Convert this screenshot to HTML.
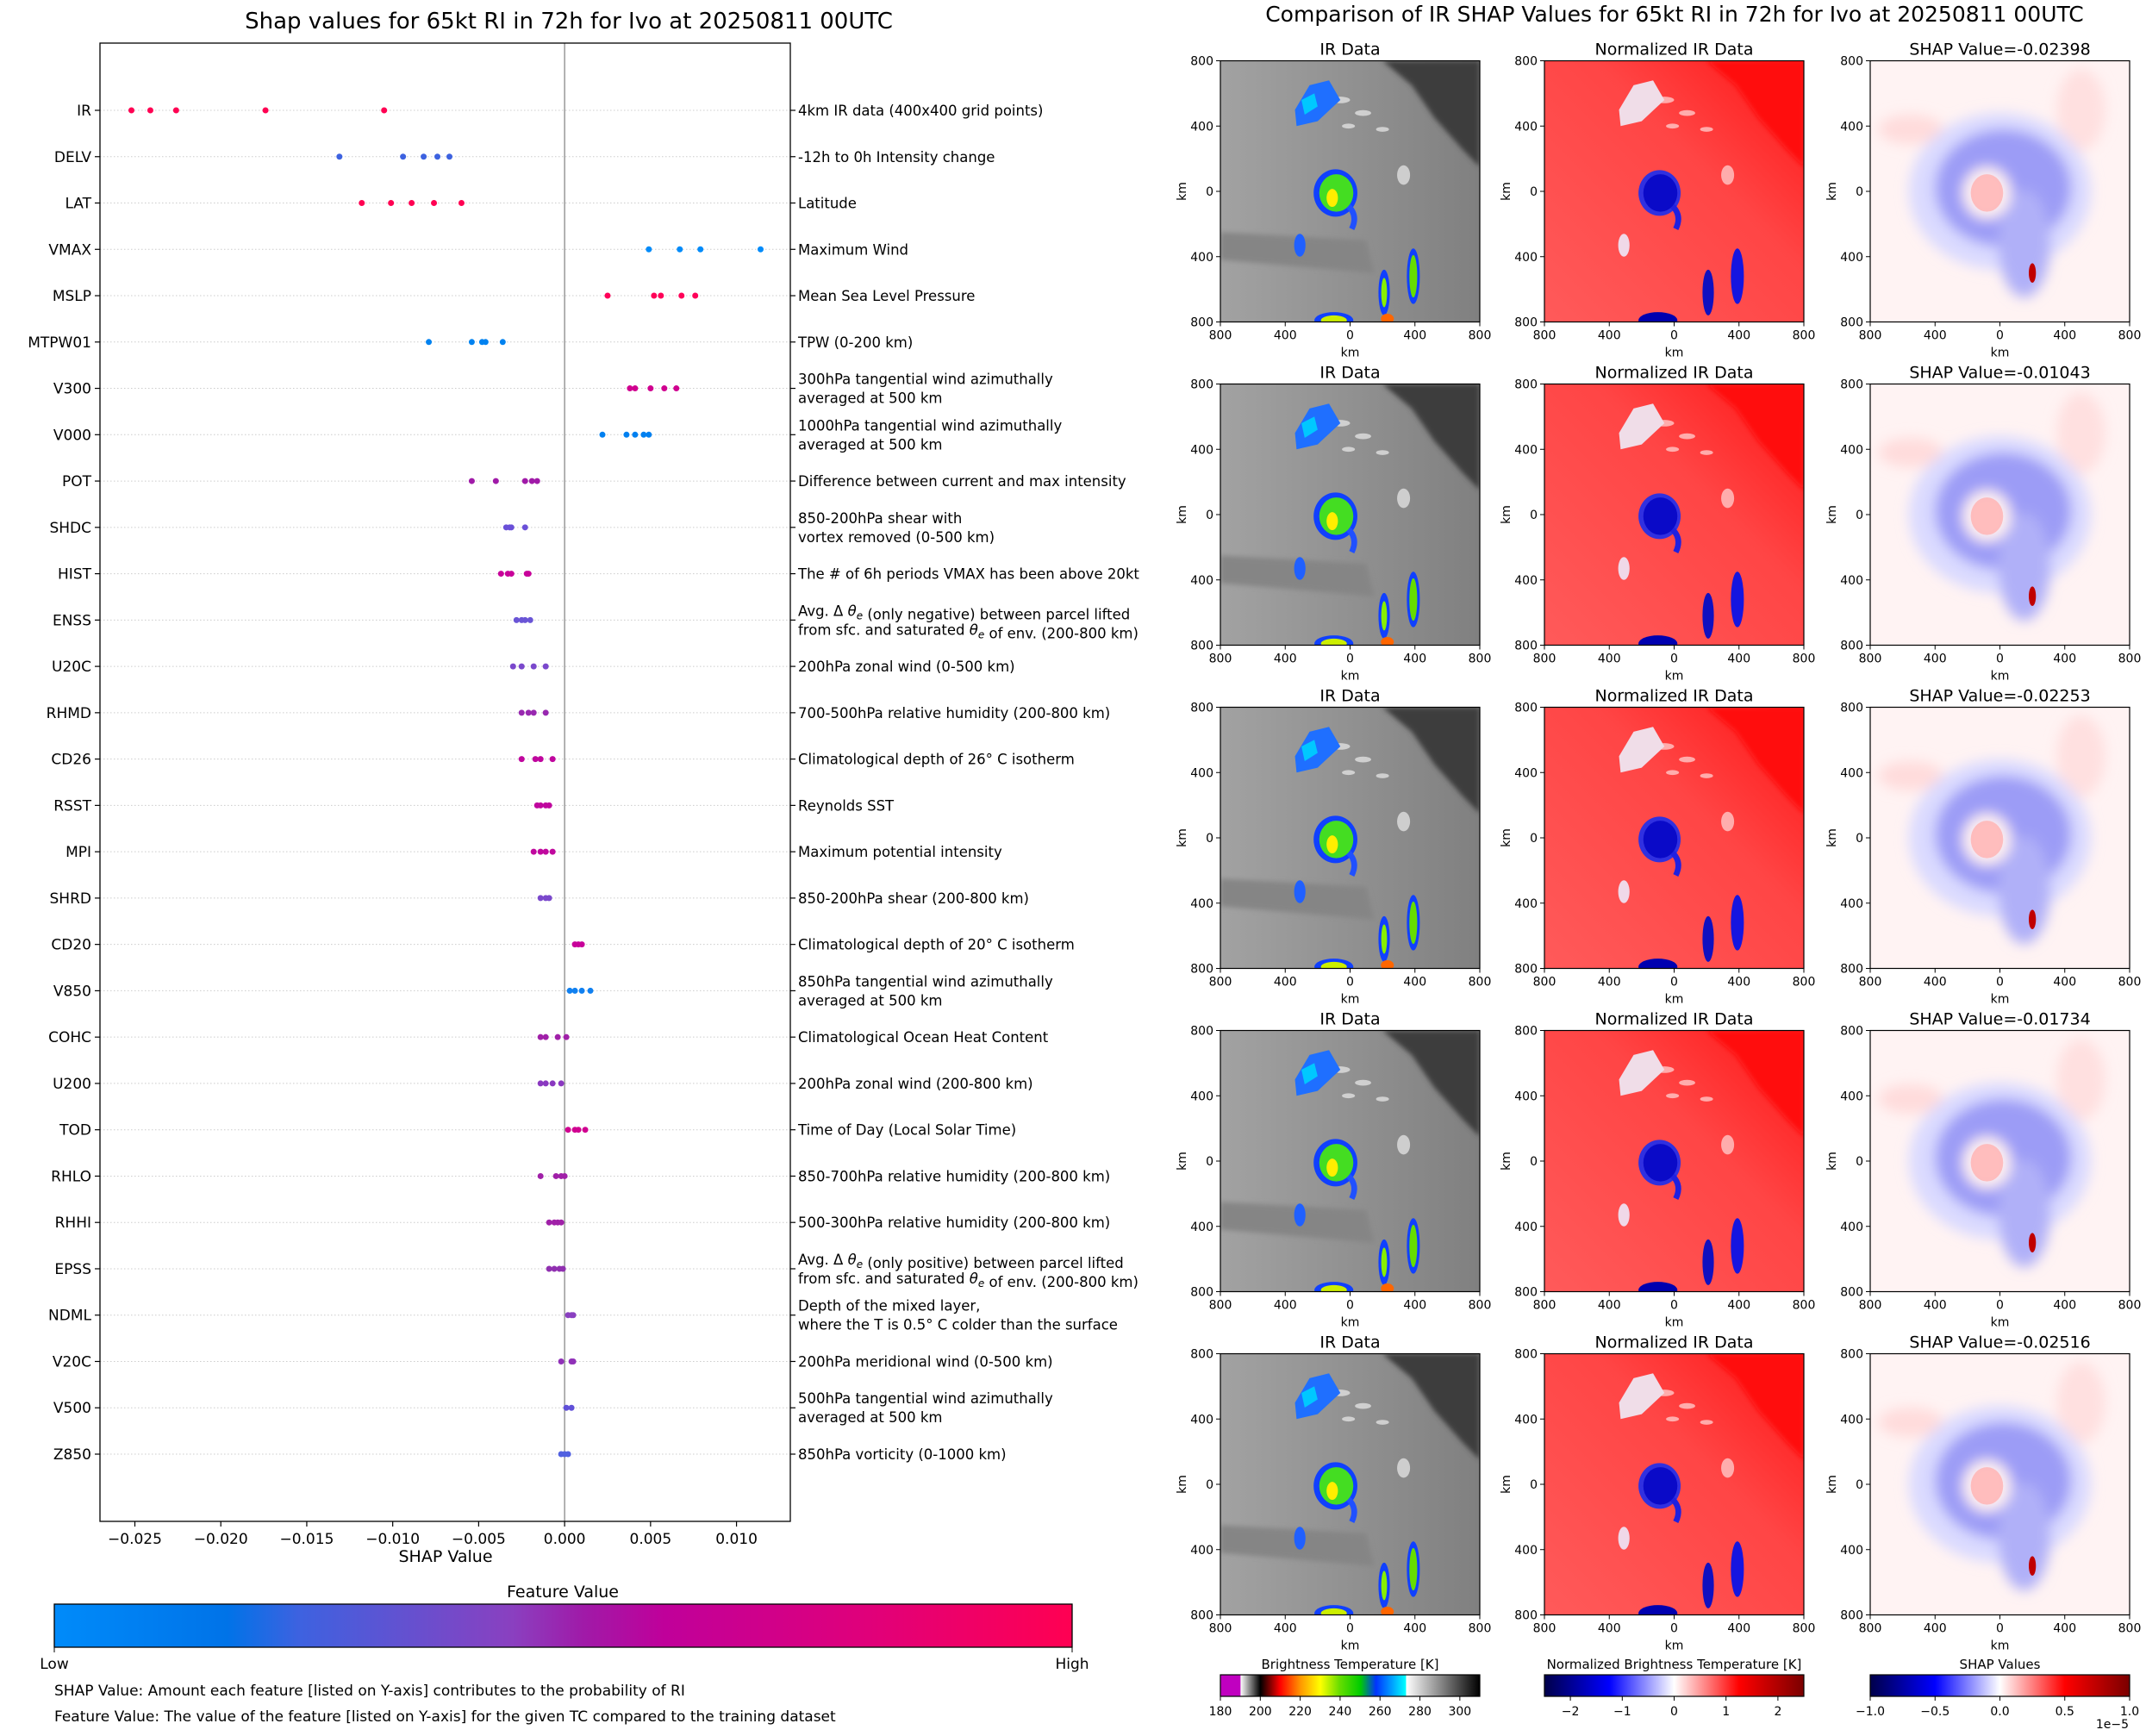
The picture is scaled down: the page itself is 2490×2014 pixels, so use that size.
<!DOCTYPE html>
<html><head><meta charset="utf-8"><style>
html,body{margin:0;padding:0;background:#fff;}
svg text{font-family:"DejaVu Sans","Liberation Sans",sans-serif;fill:#000;}
</style></head><body>
<svg id="root" width="2490" height="2009" viewBox="0 0 2490 2009" xmlns="http://www.w3.org/2000/svg">
<defs>
<linearGradient id="fvGrad" x1="0" x2="1" y1="0" y2="0">
<stop offset="0" stop-color="#008bfa"/><stop offset="0.17" stop-color="#0073e8"/><stop offset="0.24" stop-color="#3d62e0"/><stop offset="0.45" stop-color="#8a40c0"/><stop offset="0.52" stop-color="#a01aa8"/><stop offset="0.6" stop-color="#c0009a"/><stop offset="0.8" stop-color="#e0007a"/><stop offset="1" stop-color="#ff0052"/>
</linearGradient>
<linearGradient id="irCb" x1="0" x2="1">
<stop offset="0" stop-color="#c000c0"/><stop offset="0.077" stop-color="#c000c0"/><stop offset="0.078" stop-color="#ffffff"/><stop offset="0.154" stop-color="#000000"/><stop offset="0.23" stop-color="#ff0000"/><stop offset="0.31" stop-color="#ff9900"/><stop offset="0.385" stop-color="#ffff00"/><stop offset="0.46" stop-color="#66dd00"/><stop offset="0.54" stop-color="#00cc00"/><stop offset="0.6" stop-color="#0033ff"/><stop offset="0.715" stop-color="#00ffff"/><stop offset="0.716" stop-color="#ffffff"/><stop offset="1" stop-color="#000000"/>
</linearGradient>
<linearGradient id="bwr" x1="0" x2="1">
<stop offset="0" stop-color="#00004a"/><stop offset="0.25" stop-color="#0000ff"/><stop offset="0.5" stop-color="#ffffff"/><stop offset="0.75" stop-color="#ff0000"/><stop offset="1" stop-color="#7a0000"/>
</linearGradient>
<linearGradient id="irBg" x1="0" x2="1" y1="0" y2="0"><stop offset="0" stop-color="#a2a2a2"/><stop offset="1" stop-color="#808080"/></linearGradient>
<linearGradient id="nBg" x1="0" x2="1" y1="1" y2="0"><stop offset="0" stop-color="#ff5a5a"/><stop offset="0.6" stop-color="#ff4545"/><stop offset="1" stop-color="#ff1515"/></linearGradient>
<filter id="bl" x="-30%" y="-30%" width="160%" height="160%"><feGaussianBlur stdDeviation="40"/></filter>
<filter id="bl2"><feGaussianBlur stdDeviation="15"/></filter>
<clipPath id="pc"><rect x="-800" y="-800" width="1600" height="1600"/></clipPath>
<g id="irImg" clip-path="url(#pc)">
<rect x="-800" y="-800" width="1600" height="1600" fill="url(#irBg)"/>
<polygon points="200,-800 800,-800 800,-150 700,-250 520,-450 380,-650" fill="#3c3c3c" filter="url(#bl2)"/>
<polygon points="-800,250 100,300 150,500 -800,420" fill="#858585" filter="url(#bl2)"/>
<g fill="#e0e0e0" opacity="0.8">
<ellipse cx="-60" cy="-560" rx="60" ry="20"/><ellipse cx="80" cy="-480" rx="50" ry="18"/><ellipse cx="200" cy="-380" rx="40" ry="15"/><ellipse cx="-10" cy="-400" rx="40" ry="15"/><ellipse cx="330" cy="-100" rx="40" ry="60"/>
</g>
<path d="M-250,-650 L-130,-680 L-60,-560 L-200,-430 L-330,-400 L-340,-500 Z" fill="#1f6fff"/>
<path d="M-300,-560 L-220,-600 L-200,-520 L-280,-470 Z" fill="#00c8ff"/>
<ellipse cx="-90" cy="10" rx="135" ry="145" fill="#1040ff"/>
<ellipse cx="-85" cy="10" rx="105" ry="115" fill="#44dd22"/>
<ellipse cx="-110" cy="40" rx="35" ry="55" fill="#ffee00"/>
<path d="M-10,90 Q50,150 10,230" stroke="#2050ff" stroke-width="35" fill="none"/>
<ellipse cx="390" cy="520" rx="40" ry="170" fill="#1040ff"/>
<ellipse cx="390" cy="520" rx="24" ry="130" fill="#66dd00"/>
<ellipse cx="210" cy="620" rx="35" ry="140" fill="#1040ff"/>
<ellipse cx="210" cy="620" rx="18" ry="90" fill="#88ee00"/>
<ellipse cx="-100" cy="790" rx="120" ry="50" fill="#1040ff"/>
<ellipse cx="-100" cy="790" rx="80" ry="30" fill="#ccee00"/>
<ellipse cx="230" cy="780" rx="40" ry="30" fill="#ff6600"/>
<ellipse cx="-310" cy="330" rx="35" ry="70" fill="#2060ff"/>
</g>
<g id="nImg" clip-path="url(#pc)">
<rect x="-800" y="-800" width="1600" height="1600" fill="url(#nBg)"/>
<polygon points="200,-800 800,-800 800,-150 700,-250 520,-450 380,-650" fill="#ff1010" filter="url(#bl2)"/>
<g fill="#ffc8c8" opacity="0.8">
<ellipse cx="-60" cy="-560" rx="60" ry="20"/><ellipse cx="80" cy="-480" rx="50" ry="18"/><ellipse cx="200" cy="-380" rx="40" ry="15"/><ellipse cx="-10" cy="-400" rx="40" ry="15"/><ellipse cx="330" cy="-100" rx="40" ry="60"/>
</g>
<path d="M-250,-650 L-130,-680 L-60,-560 L-200,-430 L-330,-400 L-340,-500 Z" fill="#f0dde8"/>
<ellipse cx="-90" cy="10" rx="130" ry="140" fill="#3030e0"/>
<ellipse cx="-85" cy="10" rx="105" ry="115" fill="#0a0ac8"/>
<path d="M-10,90 Q50,150 10,230" stroke="#2020e0" stroke-width="35" fill="none"/>
<ellipse cx="390" cy="520" rx="40" ry="170" fill="#1515e0"/>
<ellipse cx="210" cy="620" rx="35" ry="140" fill="#1010c0"/>
<ellipse cx="-100" cy="790" rx="120" ry="50" fill="#0000b0"/>
<ellipse cx="-310" cy="330" rx="35" ry="70" fill="#f0d8e8"/>
</g>
<g id="sImg" clip-path="url(#pc)">
<rect x="-800" y="-800" width="1600" height="1600" fill="#fff3f3"/>
<g filter="url(#bl)">
<ellipse cx="-550" cy="-380" rx="200" ry="90" fill="#ffdcdc"/>
<ellipse cx="500" cy="-500" rx="150" ry="250" fill="#ffe0e0"/>
<ellipse cx="0" cy="0" rx="560" ry="480" fill="#dadaff"/>
<ellipse cx="20" cy="-20" rx="420" ry="360" fill="#9c9cf6"/>
<ellipse cx="150" cy="320" rx="160" ry="330" fill="#b0b0f8"/>
<ellipse cx="-80" cy="10" rx="150" ry="160" fill="#fff0f0"/>
</g>
<ellipse cx="-80" cy="10" rx="100" ry="115" fill="#ffb0b0" opacity="0.8"/>
<ellipse cx="200" cy="500" rx="22" ry="60" fill="#c00000"/>
</g>
</defs>
<text x="660" y="33" font-size="26" text-anchor="middle">Shap values for 65kt RI in 72h for Ivo at 20250811 00UTC</text>
<g id="shap"></g>
<g id="panels"></g>
<text x="1943" y="25" font-size="25" text-anchor="middle">Comparison of IR SHAP Values for 65kt RI in 72h for Ivo at 20250811 00UTC</text>
</svg>
<script>
const features = ["IR","DELV","LAT","VMAX","MSLP","MTPW01","V300","V000","POT","SHDC","HIST","ENSS","U20C","RHMD","CD26","RSST","MPI","SHRD","CD20","V850","COHC","U200","TOD","RHLO","RHHI","EPSS","NDML","V20C","V500","Z850"];
const descriptions = ["4km IR data (400x400 grid points)","-12h to 0h Intensity change","Latitude","Maximum Wind","Mean Sea Level Pressure","TPW (0-200 km)","300hPa tangential wind azimuthally|averaged at 500 km","1000hPa tangential wind azimuthally|averaged at 500 km","Difference between current and max intensity","850-200hPa shear with|vortex removed (0-500 km)","The # of 6h periods VMAX has been above 20kt","Avg. Δ θe (only negative) between parcel lifted|from sfc. and saturated θe of env. (200-800 km)","200hPa zonal wind (0-500 km)","700-500hPa relative humidity (200-800 km)","Climatological depth of 26° C isotherm","Reynolds SST","Maximum potential intensity","850-200hPa shear (200-800 km)","Climatological depth of 20° C isotherm","850hPa tangential wind azimuthally|averaged at 500 km","Climatological Ocean Heat Content","200hPa zonal wind (200-800 km)","Time of Day (Local Solar Time)","850-700hPa relative humidity (200-800 km)","500-300hPa relative humidity (200-800 km)","Avg. Δ θe (only positive) between parcel lifted|from sfc. and saturated θe of env. (200-800 km)","Depth of the mixed layer,|where the T is 0.5° C colder than the surface","200hPa meridional wind (0-500 km)","500hPa tangential wind azimuthally|averaged at 500 km","850hPa vorticity (0-1000 km)"];
const shapValues = [
[-0.0252,-0.0241,-0.0226,-0.0174,-0.0105],
[-0.0131,-0.0094,-0.0082,-0.0074,-0.0067],
[-0.0118,-0.0101,-0.0089,-0.0076,-0.0060],
[0.0049,0.0067,0.0079,0.0114],
[0.0025,0.0052,0.0056,0.0068,0.0076],
[-0.0079,-0.0054,-0.0048,-0.0046,-0.0036],
[0.0038,0.0041,0.0050,0.0058,0.0065],
[0.0022,0.0036,0.0041,0.0046,0.0049],
[-0.0054,-0.0040,-0.0023,-0.0019,-0.0016],
[-0.0034,-0.0032,-0.0031,-0.0023],
[-0.0037,-0.0033,-0.0031,-0.0022,-0.0021],
[-0.0028,-0.0025,-0.0023,-0.0020],
[-0.0030,-0.0025,-0.0018,-0.0011],
[-0.0025,-0.0021,-0.0018,-0.0011],
[-0.0025,-0.0017,-0.0014,-0.0007],
[-0.0016,-0.0014,-0.0011,-0.0009],
[-0.0018,-0.0014,-0.0011,-0.0007],
[-0.0014,-0.0011,-0.0009],
[0.0006,0.0008,0.0010],
[0.0003,0.0006,0.0010,0.0015],
[-0.0014,-0.0011,-0.0004,0.0001],
[-0.0014,-0.0011,-0.0007,-0.0002],
[0.0002,0.0006,0.0008,0.0012],
[-0.0014,-0.0005,-0.0002,0.0000],
[-0.0009,-0.0006,-0.0004,-0.0002],
[-0.0009,-0.0006,-0.0003,-0.0001],
[0.0002,0.0004,0.0005],
[-0.0002,0.0004,0.0005],
[0.0001,0.0004],
[-0.0002,0.0000,0.0002]];
const featureColors = ["#ff0052","#3d62e0","#ff0052","#008bfa","#ff0058","#0082f0","#d0008f","#0080f0","#a01aa8","#6a50d8","#c8009a","#6a55d6","#7a48cc","#9828b0","#c0069e","#c0069e","#c0089e","#7a48cc","#c8009a","#1080f0","#a020a8","#8a38c0","#d00090","#a020a8","#a020a8","#9030b0","#8a40c0","#9030b8","#6050d8","#5060e0"];
const xTicks = [-0.025,-0.020,-0.015,-0.010,-0.005,0.000,0.005,0.010];
const xTickLabels = ["−0.025","−0.020","−0.015","−0.010","−0.005","0.000","0.005","0.010"];
const irTicks = [180,200,220,240,260,280,300];
const normTicks = [-2,-1,0,1,2];
const normTickLabels = ["−2","−1","0","1","2"];
const shapCbTicks = [-1.0,-0.5,0.0,0.5,1.0];
const shapCbLabels = ["−1.0","−0.5","0.0","0.5","1.0"];
const panelSubtitles = ["SHAP Value=-0.02398","SHAP Value=-0.01043","SHAP Value=-0.02253","SHAP Value=-0.01734","SHAP Value=-0.02516"];
const kmTicks = [-800,-400,0,400,800];
const kmTickLabels = ["800","400","0","400","800"];

const NS="http://www.w3.org/2000/svg";
function mk(tag,attrs,parent,txt){const e=document.createElementNS(NS,tag);for(const k in attrs)e.setAttribute(k,attrs[k]);if(txt!==undefined)e.textContent=txt;parent.appendChild(e);return e;}
const AX={l:116,r:917,t:50,b:1765};
const xDom=[-0.02703,0.01313];
function xs(v){return AX.l+(v-xDom[0])/(xDom[1]-xDom[0])*(AX.r-AX.l);}
const y0=128, dy=(1687-128)/29;
function ys(i){return y0+i*dy;}
const sg=document.getElementById('shap');

features.forEach((f,i)=>{
 const g=mk('line',{x1:AX.l,x2:AX.r,y1:ys(i),y2:ys(i),stroke:'#cccccc','stroke-width':1,'stroke-dasharray':'1.5,2.5'},sg);
 
 
});
const zl=mk('line',{x1:xs(0),x2:xs(0),y1:AX.t,y2:AX.b,stroke:'#888','stroke-width':1.3},sg);


const fr=mk('rect',{x:AX.l,y:AX.t,width:AX.r-AX.l,height:AX.b-AX.t,fill:'none',stroke:'#000','stroke-width':1.3},sg);



features.forEach((f,i)=>{
 const y=ys(i);
 mk('line',{x1:AX.l-6,x2:AX.l,y1:y,y2:y,stroke:'#000','stroke-width':1.2},sg);
 mk('line',{x1:AX.r,x2:AX.r+6,y1:y,y2:y,stroke:'#000','stroke-width':1.2},sg);
 const t=mk('text',{x:AX.l-10,y:y+6,'font-size':17,'text-anchor':'end'},sg,f);
 
 
 const lines=descriptions[i].split('|');
 const dt=mk('text',{x:926,'font-size':16.5},sg);
 
 
 const startY=y+6-(lines.length-1)*11;
 lines.forEach((ln,k)=>{
  const ts=mk('tspan',{x:926,y:startY+k*22},dt);
  const parts=ln.split('θe');
  parts.forEach((p,pi)=>{
   ts.appendChild(document.createTextNode(p));
   if(pi<parts.length-1){
    mk('tspan',{'font-style':'italic'},ts,'θ');
    mk('tspan',{'font-style':'italic','font-size':12,dy:4},ts,'e');
    mk('tspan',{dy:-4},ts,'');
   }
  });
 });
 shapValues[i].forEach((v,k)=>{
  const c=mk('circle',{cx:xs(v),cy:y,r:3.5,fill:featureColors[i]},sg);
  
  
 });
});
xTicks.forEach((v,k)=>{
 mk('line',{x1:xs(v),x2:xs(v),y1:AX.b,y2:AX.b+6,stroke:'#000','stroke-width':1.2},sg);
 const t=mk('text',{x:xs(v),y:AX.b+26,'font-size':17,'text-anchor':'middle'},sg,xTickLabels[k]);
 
 
});
let t=mk('text',{x:517,y:1812,'font-size':19,'text-anchor':'middle'},sg,'SHAP Value');


t=mk('text',{x:653,y:1853,'font-size':19,'text-anchor':'middle'},sg,'Feature Value');


let cb=mk('rect',{x:63,y:1861,width:1181,height:50,fill:'url(#fvGrad)',stroke:'#000','stroke-width':1.3},sg);


mk('line',{x1:63,x2:63,y1:1911,y2:1917,stroke:'#000'},sg);
mk('line',{x1:1244,x2:1244,y1:1911,y2:1917,stroke:'#000'},sg);
t=mk('text',{x:63,y:1936,'font-size':17,'text-anchor':'middle'},sg,'Low');


t=mk('text',{x:1244,y:1936,'font-size':17,'text-anchor':'middle'},sg,'High');


t=mk('text',{x:63,y:1967,'font-size':17},sg,'SHAP Value: Amount each feature [listed on Y-axis] contributes to the probability of RI');


t=mk('text',{x:63,y:1997,'font-size':17},sg,'Feature Value: The value of the feature [listed on Y-axis] for the given TC compared to the training dataset');



const pg=document.getElementById('panels');
const colX=[1416,1792,2170], PW=301, PH=303;
const imgIds=['irImg','nImg','sImg'];
for(let r=0;r<5;r++){
 const top=70.5+r*375;
 for(let c=0;c<3;c++){
  const x0=colX[c];
  const s=mk('svg',{x:x0,y:top,width:PW,height:PH,viewBox:'-800 -800 1600 1600',preserveAspectRatio:'none'},pg);
  
  
  mk('use',{href:'#'+imgIds[c]},s);
  mk('rect',{x:x0,y:top,width:PW,height:PH,fill:'none',stroke:'#000','stroke-width':1.2},pg);
  const title=c===0?'IR Data':c===1?'Normalized IR Data':panelSubtitles[r];
  const tt=mk('text',{x:x0+PW/2,y:top-7,'font-size':19,'text-anchor':'middle'},pg,title);
  
  
  kmTicks.forEach((v,k)=>{
   const px=x0+(v+800)/1600*PW, py=top+(v+800)/1600*PH;
   mk('line',{x1:px,x2:px,y1:top+PH,y2:top+PH+5,stroke:'#000'},pg);
   mk('text',{x:px,y:top+PH+20,'font-size':14,'text-anchor':'middle'},pg,kmTickLabels[k]);
   mk('line',{x1:x0-5,x2:x0,y1:py,y2:py,stroke:'#000'},pg);
   mk('text',{x:x0-8,y:py+5,'font-size':14,'text-anchor':'end'},pg,kmTickLabels[k]);
  });
  mk('text',{x:x0+PW/2,y:top+PH+40,'font-size':14,'text-anchor':'middle'},pg,'km');
  mk('text',{x:x0-40,y:top+PH/2,'font-size':14,'text-anchor':'middle',transform:`rotate(-90 ${x0-40} ${top+PH/2})`},pg,'km');
 }
}
const cbY=1943, cbH=25;
const cbDefs=[['Brightness Temperature [K]','url(#irCb)',irTicks,irTicks.map(String),180,310],
 ['Normalized Brightness Temperature [K]','url(#bwr)',normTicks,normTickLabels,-2.5,2.5],
 ['SHAP Values','url(#bwr)',shapCbTicks,shapCbLabels,-1,1]];
cbDefs.forEach((d,c)=>{
 const x0=colX[c];
 const r=mk('rect',{x:x0,y:cbY,width:PW,height:cbH,fill:d[1],stroke:'#000','stroke-width':1.2},pg);
 
 
 mk('text',{x:x0+PW/2,y:1936,'font-size':15,'text-anchor':'middle'},pg,d[0]);
 d[2].forEach((v,k)=>{
  const px=x0+(v-d[4])/(d[5]-d[4])*PW;
  mk('line',{x1:px,x2:px,y1:cbY+cbH,y2:cbY+cbH+5,stroke:'#000'},pg);
  mk('text',{x:px,y:cbY+cbH+22,'font-size':14,'text-anchor':'middle'},pg,d[3][k]);
 });
});
mk('text',{x:2470,y:2005,'font-size':14,'text-anchor':'end'},pg,'1e−5');
</script>
</body></html>
